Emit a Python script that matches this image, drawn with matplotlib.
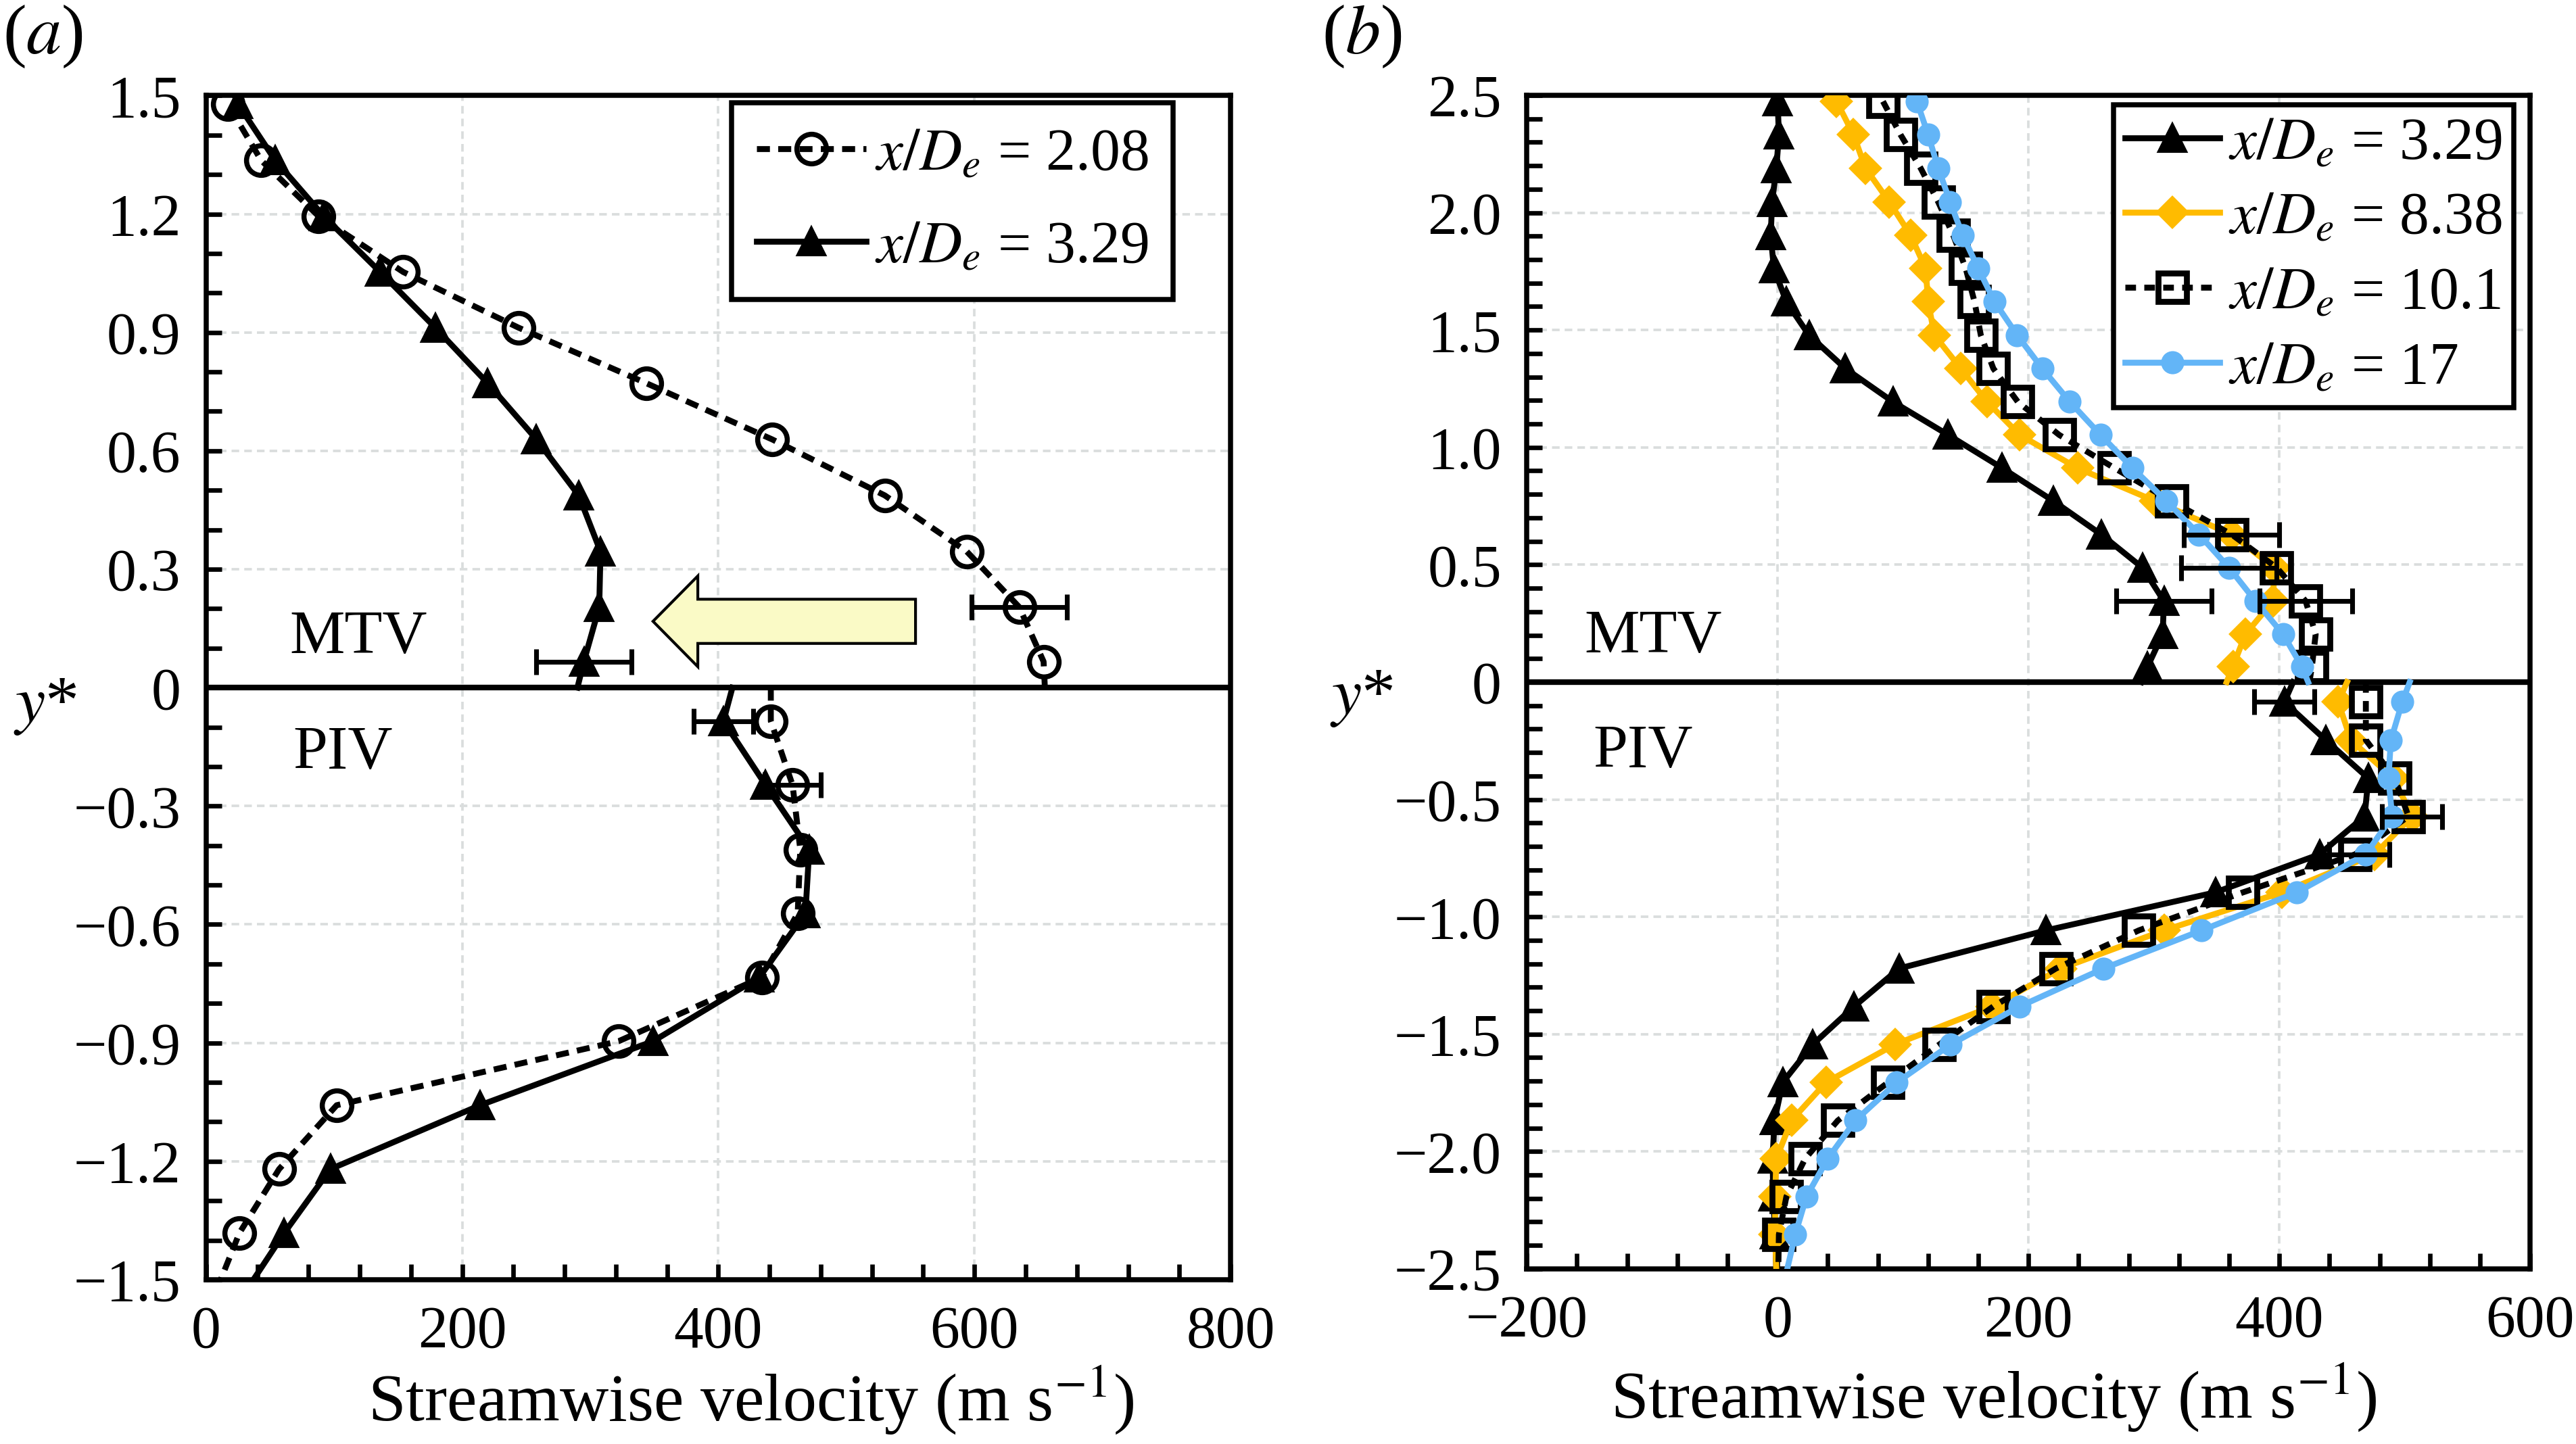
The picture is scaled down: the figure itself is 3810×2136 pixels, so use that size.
import matplotlib
matplotlib.use('Agg')
import matplotlib.pyplot as plt
from matplotlib.patches import FancyArrow
from matplotlib.ticker import MultipleLocator, FuncFormatter

plt.rcParams['font.family'] = ['Liberation Serif', 'STIXGeneral', 'DejaVu Serif']
plt.rcParams['mathtext.fontset'] = 'stix'

# ---------------- data ----------------
# normalised height y* of measurement points
y_mtv = [0.066, 0.204, 0.345, 0.487, 0.629, 0.771, 0.912, 1.053, 1.194, 1.336,
         1.478, 1.620, 1.762, 1.904, 2.046, 2.190, 2.332, 2.474]
y_piv = [-0.085, -0.247, -0.410, -0.572, -0.734, -0.896, -1.058, -1.220, -1.382,
         -1.544, -1.706, -1.868, -2.030, -2.192, -2.354]
y_edge_top = 0.0      # MTV / PIV interface
y_edge_bottom = -2.516

# streamwise velocity (m/s)
u208_mtv = [654, 635, 594, 530, 442, 344, 244, 154, 88, 43, 17]
u208_piv = [441, 458, 464, 462, 434, 322, 102, 57, 26, 6]
u329_mtv = [295, 307, 308, 291, 258, 220, 179, 136, 92, 54, 25, 7, -3, -5.5, -4.4, -1, 1, 0]
u329_piv = [404, 437, 471, 468, 432, 349, 214, 97, 61, 28, 4, -2.5, -4, -3.5, -2]
u838_mtv = [363, 373, 395, 396, 362, 301, 239, 193, 167, 146, 125, 120, 118, 106, 89, 70, 60.5, 47]
u838_piv = [447, 457, 491, 506, 476, 402, 308, 226, 171, 93.5, 38.5, 11, -1, -2, -2]
u101_mtv = [426, 429, 421, 398, 362, 314, 268.5, 224.5, 191.5, 172, 162, 157, 150, 140, 128, 114, 98, 84]
u101_piv = [469, 469, 492, 503, 460.5, 371, 288, 222, 172, 129, 88, 48, 22, 7, 1]
u17_mtv = [418, 403, 381, 360, 336, 310, 283, 257.5, 233, 211, 191, 173, 160, 147.5, 137.5, 128, 120, 111]
u17_piv = [498, 489, 487, 490, 469, 414, 338, 260, 193, 138, 95, 62, 40, 23, 14]

# line values where the profiles meet the interface (y*=0) and the bottom edge
u_mtv_at0 = {'2.08': 655, '3.29': 290, '8.38': 358, '10.1': 424, '17': 423}
u_piv_at0 = {'2.08': 441, '3.29': 411, '8.38': 454, '10.1': 469, '17': 504}
u_piv_bottom = {'3.29': -1, '8.38': -1, '10.1': 0.5, '17': 7}

# error bars
eb_a_u = [635, 295, 458, 404]
eb_a_y = [0.204, 0.066, -0.247, -0.085]
eb_a_err = [37, 37, 22, 23]
eb_b_u = [308, 362, 360, 421, 404, 506, 464]
eb_b_y = [0.345, 0.629, 0.487, 0.345, -0.085, -0.572, -0.734]
eb_b_err = [38, 38, 38, 37, 24, 24, 24]

legend_a = ['2.08', '3.29']
legend_b = ['3.29', '8.38', '10.1', '17']

ORANGE = '#FFBB00'
BLUE = '#63B5F7'

styles = {
    '2.08': dict(color='k', ls=(0, (2.2, 1.4)), lw=2.1, marker='o', ms=10.5, mfc='none', mec='k', mew=1.8),
    '3.29': dict(color='k', ls='-', lw=2.1, marker='^', ms=9.5, mfc='k', mec='k', mew=1.0),
    '8.38': dict(color=ORANGE, ls='-', lw=2.1, marker='D', ms=7.3, mfc=ORANGE, mec=ORANGE, mew=1.0),
    '10.1': dict(color='k', ls=(0, (1.8, 1.4)), lw=2.1, marker='s', ms=10, mfc='none', mec='k', mew=2.1),
    '17': dict(color=BLUE, ls='-', lw=2.1, marker='o', ms=7.2, mfc=BLUE, mec=BLUE, mew=1.0),
}
series = {
    '2.08': (u208_mtv, u208_piv),
    '3.29': (u329_mtv, u329_piv),
    '8.38': (u838_mtv, u838_piv),
    '10.1': (u101_mtv, u101_piv),
    '17': (u17_mtv, u17_piv),
}

FS_TICK = 21
FS_TEXT = 22
FS_LEG = 21
FS_LABEL = 24
XLABEL = 'Streamwise velocity (m s$^{\u22121}$)'


def draw_series(ax, key, with_bottom):
    st = styles[key]
    um, up = series[key]
    ym = y_mtv[:len(um)]
    yp = y_piv[:len(up)]
    # MTV branch
    xs = [u_mtv_at0[key]] + list(um)
    ys = [y_edge_top] + list(ym)
    line, = ax.plot(xs, ys, markevery=list(range(1, len(xs))), zorder=4, **st)
    # PIV branch
    xs = [u_piv_at0[key]] + list(up)
    ys = [y_edge_top] + list(yp)
    n = len(xs)
    if with_bottom and key in u_piv_bottom:
        xs = xs + [u_piv_bottom[key]]
        ys = ys + [y_edge_bottom]
    ax.plot(xs, ys, markevery=list(range(1, n)), zorder=4, **st)
    return line


def style_axes(ax, xlim, ylim, xmaj, xmin, ymaj, ymin, yfmt):
    ax.set_xlim(*xlim)
    ax.set_ylim(*ylim)
    ax.xaxis.set_major_locator(MultipleLocator(xmaj))
    ax.xaxis.set_minor_locator(MultipleLocator(xmin))
    ax.yaxis.set_major_locator(MultipleLocator(ymaj))
    ax.yaxis.set_minor_locator(MultipleLocator(ymin))
    ax.yaxis.set_major_formatter(FuncFormatter(yfmt))
    ax.xaxis.set_major_formatter(FuncFormatter(lambda v, p: ('\u2212%d' % abs(round(v))) if v < -1e-9 else '%d' % round(v)))
    ax.tick_params(which='both', direction='in', length=5.5, width=1.6,
                   labelsize=FS_TICK, pad=9, top=False, right=False)
    for s in ax.spines.values():
        s.set_linewidth(1.8)
    ax.grid(True, which='major', color='#DADDDD', ls=(0, (3, 2)), lw=0.9, zorder=0)
    ax.set_axisbelow(True)
    ax.axhline(0, color='k', lw=2.0, zorder=3)


def fmt_a(v, p):
    if abs(v) < 1e-9:
        return '0'
    s = '%.1f' % abs(v)
    return ('\u2212' + s) if v < 0 else s


fig = plt.figure(figsize=(12.7, 7.12), dpi=300)

# ---------------- panel (a) ----------------
ax1 = fig.add_axes([0.080, 0.1138, 0.3977, 0.820])
style_axes(ax1, (0, 800), (-1.5, 1.5), 200, 40, 0.3, 0.1, fmt_a)
h208 = draw_series(ax1, '2.08', False)
h329a = draw_series(ax1, '3.29', False)
ax1.errorbar(eb_a_u, eb_a_y, xerr=eb_a_err, fmt='none', ecolor='k', elinewidth=1.7,
             capsize=4.5, capthick=1.7, zorder=5)
arrow = FancyArrow(554, 0.168, -205, 0, width=0.112, head_width=0.23, head_length=35,
                   length_includes_head=True, fc='#FAFAC6', ec='k', lw=1.0, zorder=5)
ax1.add_patch(arrow)
ax1.text(65, 0.125, 'MTV', fontsize=FS_TEXT, ha='left', va='center')
ax1.text(68, -0.167, 'PIV', fontsize=FS_TEXT, ha='left', va='center')
leg1 = ax1.legend([h208, h329a], ['$x/D_e$ = %s' % k for k in legend_a],
                  loc='upper right', bbox_to_anchor=(0.944, 0.994), fontsize=FS_LEG,
                  frameon=True, fancybox=False, edgecolor='k', framealpha=1,
                  borderaxespad=0, numpoints=1, handlelength=1.85, handletextpad=0.15,
                  labelspacing=0.64, borderpad=0.42)
leg1.get_frame().set_linewidth(1.8)

# ---------------- panel (b) ----------------
ax2 = fig.add_axes([0.5927, 0.1213, 0.3895, 0.8127])
style_axes(ax2, (-200, 600), (-2.5, 2.5), 200, 40, 0.5, 0.1, fmt_a)
handles_b = [draw_series(ax2, k, True) for k in legend_b]
ax2.errorbar(eb_b_u, eb_b_y, xerr=eb_b_err, fmt='none', ecolor='k', elinewidth=1.7,
             capsize=4.5, capthick=1.7, zorder=5)
ax2.text(-154, 0.19, 'MTV', fontsize=FS_TEXT, ha='left', va='center')
ax2.text(-147, -0.30, 'PIV', fontsize=FS_TEXT, ha='left', va='center')
leg2 = ax2.legend(handles_b, ['$x/D_e$ = %s' % k for k in legend_b],
                  loc='upper right', bbox_to_anchor=(0.984, 0.992), fontsize=FS_LEG,
                  frameon=True, fancybox=False, edgecolor='k', framealpha=1,
                  borderaxespad=0, numpoints=1, handlelength=1.6, handletextpad=0.15,
                  labelspacing=0.34, borderpad=0.2)
leg2.get_frame().set_linewidth(1.8)

# axis labels and panel labels
fig.text(0.2915, 0.016, XLABEL, fontsize=FS_LABEL, ha='center', va='baseline')
fig.text(0.7740, 0.018, XLABEL, fontsize=FS_LABEL, ha='center', va='baseline')
fig.text(0.0175, 0.511, '$y$*', fontsize=FS_LABEL, ha='center', va='center')
fig.text(0.5287, 0.5165, '$y$*', fontsize=FS_LABEL, ha='center', va='center')
fig.text(0.0166, 0.975, '($a$)', fontsize=25, ha='center', va='center')
fig.text(0.5287, 0.975, '($b$)', fontsize=25, ha='center', va='center')

fig.savefig('out.png', dpi=300)
